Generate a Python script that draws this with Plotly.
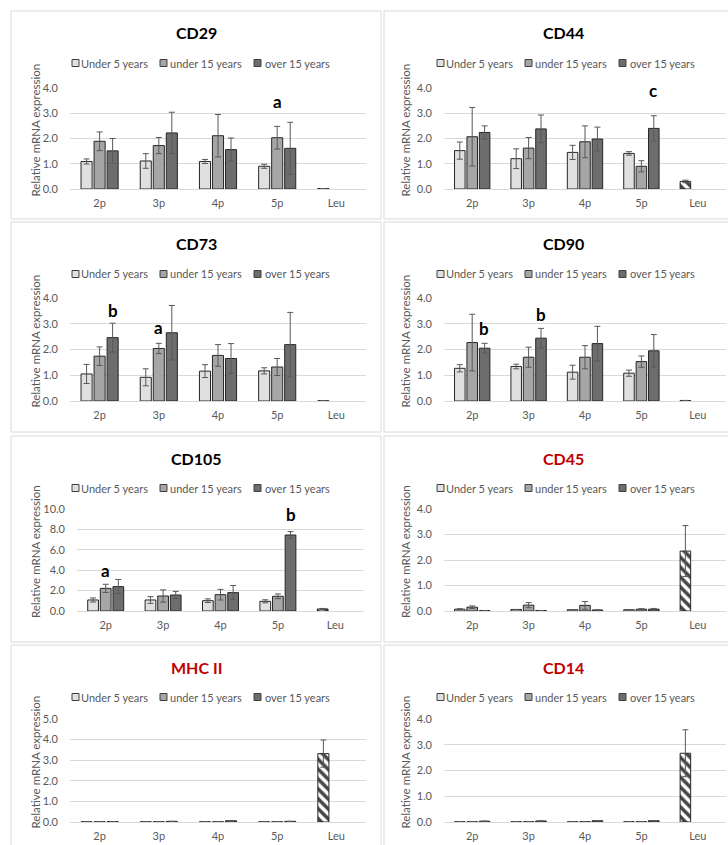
import plotly.graph_objects as go

# ---- data -------------------------------------------------------------
CATS = ["2p", "3p", "4p", "5p", "Leu"]
SERIES = ["Under 5 years", "under 15 years", "over 15 years"]

cd29_u5 = [1.09, 1.11, 1.09, 0.90, 0.02]
cd29_u5_err = [0.10, 0.29, 0.08, 0.08, None]
cd29_u15 = [1.89, 1.72, 2.11, 2.03, None]
cd29_u15_err = [0.37, 0.32, 0.84, 0.45, None]
cd29_o15 = [1.51, 2.22, 1.56, 1.61, None]
cd29_o15_err = [0.49, 0.82, 0.46, 1.03, None]

cd44_u5 = [1.52, 1.20, 1.45, 1.41, 0.30]
cd44_u5_err = [0.34, 0.39, 0.28, 0.07, 0.05]
cd44_u15 = [2.07, 1.62, 1.87, 0.90, None]
cd44_u15_err = [1.16, 0.42, 0.63, 0.22, None]
cd44_o15 = [2.24, 2.38, 1.98, 2.40, None]
cd44_o15_err = [0.26, 0.55, 0.47, 0.50, None]

cd73_u5 = [1.05, 0.92, 1.16, 1.17, 0.01]
cd73_u5_err = [0.37, 0.33, 0.25, 0.12, None]
cd73_u15 = [1.74, 2.04, 1.77, 1.32, None]
cd73_u15_err = [0.36, 0.20, 0.42, 0.33, None]
cd73_o15 = [2.46, 2.65, 1.65, 2.19, None]
cd73_o15_err = [0.56, 1.06, 0.58, 1.25, None]

cd90_u5 = [1.27, 1.34, 1.12, 1.08, 0.02]
cd90_u5_err = [0.14, 0.09, 0.27, 0.12, None]
cd90_u15 = [2.27, 1.70, 1.70, 1.53, None]
cd90_u15_err = [1.10, 0.39, 0.45, 0.22, None]
cd90_o15 = [2.05, 2.44, 2.23, 1.95, None]
cd90_o15_err = [0.19, 0.38, 0.67, 0.63, None]

cd105_u5 = [1.08, 1.08, 1.01, 0.95, 0.20]
cd105_u5_err = [0.20, 0.33, 0.18, 0.15, 0.05]
cd105_u15 = [2.22, 1.47, 1.60, 1.44, None]
cd105_u15_err = [0.40, 0.60, 0.52, 0.23, None]
cd105_o15 = [2.39, 1.57, 1.80, 7.45, None]
cd105_o15_err = [0.70, 0.35, 0.70, 0.33, None]

cd45_u5 = [0.07, 0.06, 0.05, 0.05, 2.35]
cd45_u5_err = [0.02, None, None, None, 1.00]
cd45_u15 = [0.15, 0.23, 0.22, 0.07, None]
cd45_u15_err = [0.05, 0.10, 0.15, 0.02, None]
cd45_o15 = [0.02, 0.02, 0.04, 0.07, None]
cd45_o15_err = [None, None, None, 0.03, None]

mhc2_u5 = [0.01, 0.01, 0.01, 0.01, 3.32]
mhc2_u5_err = [None, None, None, None, 0.66]
mhc2_u15 = [0.01, 0.01, 0.01, 0.01, None]
mhc2_u15_err = [None, None, None, None, None]
mhc2_o15 = [0.02, 0.03, 0.06, 0.03, None]
mhc2_o15_err = [None, None, None, None, None]

cd14_u5 = [0.01, 0.01, 0.01, 0.01, 2.67]
cd14_u5_err = [None, None, None, None, 0.91]
cd14_u15 = [0.01, 0.01, 0.01, 0.01, None]
cd14_u15_err = [None, None, None, None, None]
cd14_o15 = [0.03, 0.04, 0.05, 0.05, None]
cd14_o15_err = [None, None, None, None, None]

# significance letters: (category, value height, letter, bar slot)
cd29_sig = [("5p", 3.45, "a", 0)]
cd44_sig = [("5p", 3.92, "c", 1)]
cd73_sig = [("2p", 3.50, "b", 1), ("3p", 2.87, "a", 0)]
cd90_sig = [("2p", 2.80, "b", 1), ("3p", 3.34, "b", 1)]
cd105_sig = [("2p", 4.00, "a", 0), ("5p", 9.50, "b", 1)]

# ---- styling -------------------------------------------------------------
W, H = 728, 845
FONT = "Lato, Carlito, Calibri, sans-serif"
TXT = "#595959"
GRID = "#d9d9d9"
EDGE = "#262626"
ERR = "#595959"
FILLS = ["#e0e0e0", "#a6a6a6", "#6d6d6d"]
RED = "#c00000"


def fx(px):
    return px / W


def fy(py):
    return 1 - py / H


panels = [
    dict(title="CD29", tcolor="black", col=0, row=0, ymax=4, dtick=1,
         vals=(cd29_u5, cd29_u15, cd29_o15),
         errs=(cd29_u5_err, cd29_u15_err, cd29_o15_err), sig=cd29_sig),
    dict(title="CD44", tcolor="black", col=1, row=0, ymax=4, dtick=1,
         vals=(cd44_u5, cd44_u15, cd44_o15),
         errs=(cd44_u5_err, cd44_u15_err, cd44_o15_err), sig=cd44_sig),
    dict(title="CD73", tcolor="black", col=0, row=1, ymax=4, dtick=1,
         vals=(cd73_u5, cd73_u15, cd73_o15),
         errs=(cd73_u5_err, cd73_u15_err, cd73_o15_err), sig=cd73_sig),
    dict(title="CD90", tcolor="black", col=1, row=1, ymax=4, dtick=1,
         vals=(cd90_u5, cd90_u15, cd90_o15),
         errs=(cd90_u5_err, cd90_u15_err, cd90_o15_err), sig=cd90_sig),
    dict(title="CD105", tcolor="black", col=0, row=2, ymax=10, dtick=2,
         vals=(cd105_u5, cd105_u15, cd105_o15),
         errs=(cd105_u5_err, cd105_u15_err, cd105_o15_err), sig=cd105_sig,
         xdom=(77, 364)),
    dict(title="CD45", tcolor=RED, col=1, row=2, ymax=4, dtick=1,
         vals=(cd45_u5, cd45_u15, cd45_o15),
         errs=(cd45_u5_err, cd45_u15_err, cd45_o15_err), sig=[]),
    dict(title="MHC II", tcolor=RED, col=0, row=3, ymax=5, dtick=1,
         vals=(mhc2_u5, mhc2_u15, mhc2_o15),
         errs=(mhc2_u5_err, mhc2_u15_err, mhc2_o15_err), sig=[]),
    dict(title="CD14", tcolor=RED, col=1, row=3, ymax=4, dtick=1,
         vals=(cd14_u5, cd14_u15, cd14_o15),
         errs=(cd14_u5_err, cd14_u15_err, cd14_o15_err), sig=[]),
]

# pixel geometry of the 2 x 4 grid of framed charts
col_frame = [(11, 381), (384, 745)]
row_frame = [(11, 219), (222, 432), (436, 642), (645, 870)]
col_plot = [(70, 366), (444, 726)]
row_plot = [(88, 189), (298, 401), (509, 611), (719, 822)]
title_x = [196, 563]
legend_box_x = [72, 160, 254]
legend_txt_x = [79, 168, 263]
col_shift = [0, 365]
ytitle_x = [35, 405]

fig = go.Figure()
shapes, annotations = [], []
layout_axes = {}

for i, p in enumerate(panels):
    n = "" if i == 0 else str(i + 1)
    xa, ya = "x" + n, "y" + n
    c, r = p["col"], p["row"]
    x0, x1 = p.get("xdom", col_plot[c])
    ptop, pbot = row_plot[r]

    for s in range(3):
        vals = p["vals"][s]
        errs = p["errs"][s]
        colors = [FILLS[s]] * len(CATS)
        shapes_pat = [""] * len(CATS)
        if s == 0:
            # leukocyte control drawn as a hatched bar
            colors[-1] = "white"
            shapes_pat[-1] = "\\"
        fig.add_trace(go.Bar(
            x=CATS, y=vals, name=SERIES[s], xaxis=xa, yaxis=ya,
            showlegend=False,
            marker=dict(color=colors, line=dict(color=EDGE, width=1),
                        pattern=dict(shape=shapes_pat, fgcolor="#000000",
                                     bgcolor="white", fgopacity=1,
                                     size=7, solidity=0.5)),
            error_y=dict(type="data", array=errs, visible=True, color=ERR,
                         thickness=1, width=3),
        ))

    layout_axes["xaxis" + n] = dict(
        domain=[fx(x0), fx(x1)], anchor=ya, type="category",
        categoryorder="array", categoryarray=CATS, automargin=False,
        showgrid=False, showline=True, linecolor=GRID, linewidth=1,
        ticks="", tickfont=dict(size=11, color=TXT, family=FONT),
        ticklabelstandoff=4, fixedrange=True,
    )
    layout_axes["yaxis" + n] = dict(
        domain=[fy(pbot), fy(ptop)], anchor=xa, range=[0, p["ymax"]],
        dtick=p["dtick"], tickformat=".1f", showgrid=True, gridcolor=GRID,
        gridwidth=1, zeroline=False, showline=False, ticks="",
        automargin=False,
        tickfont=dict(size=11, color=TXT, family=FONT),
        ticklabelstandoff=11, fixedrange=True,
    )

    # frame
    fx0, fx1 = col_frame[c]
    fy0, fy1 = row_frame[r]
    shapes.append(dict(type="rect", xref="paper", yref="paper",
                       x0=fx(fx0), x1=fx(fx1), y0=fy(fy1), y1=fy(fy0),
                       line=dict(color=GRID, width=1), layer="below"))

    # title
    annotations.append(dict(
        text="<b>%s</b>" % p["title"], xref="paper", yref="paper",
        x=fx(title_x[c]), y=fy(fy0 + 22), xanchor="center", yanchor="middle",
        showarrow=False, font=dict(size=16, color=p["tcolor"], family=FONT)))

    # legend row
    ly = fy0 + 52
    for s in range(3):
        bx = legend_box_x[s] + col_shift[c]
        shapes.append(dict(type="rect", xref="paper", yref="paper",
                           x0=fx(bx), x1=fx(bx + 7),
                           y0=fy(ly + 3.5), y1=fy(ly - 3.5),
                           fillcolor=FILLS[s],
                           line=dict(color="#404040", width=1)))
        annotations.append(dict(
            text=SERIES[s], xref="paper", yref="paper",
            x=fx(legend_txt_x[s] + col_shift[c]), y=fy(ly),
            xanchor="left", yanchor="middle", showarrow=False,
            font=dict(size=11, color=TXT, family=FONT)))

    # y axis title
    annotations.append(dict(
        text="Relative mRNA expression", xref="paper", yref="paper",
        x=fx(ytitle_x[c]), y=fy((ptop + pbot) / 2 - 8), textangle=-90,
        xanchor="center", yanchor="middle", showarrow=False,
        font=dict(size=11.5, color=TXT, family=FONT)))

    # significance letters
    cat_w = (x1 - x0) / len(CATS)
    for cat, yv, letter, slot in p["sig"]:
        annotations.append(dict(
            text="<b>%s</b>" % letter, xref=xa, yref=ya, x=cat, y=yv,
            xshift=round(slot * cat_w * 0.66 / 3), showarrow=False,
            xanchor="center", yanchor="middle",
            font=dict(size=17, color="black", family=FONT)))

fig.update_layout(
    width=W, height=H, autosize=False,
    margin=dict(l=0, r=0, t=0, b=0, pad=0),
    paper_bgcolor="white", plot_bgcolor="white",
    barmode="group", bargap=0.34, bargroupgap=0.15,
    font=dict(family=FONT, color=TXT),
    shapes=shapes, annotations=annotations,
    **layout_axes,
)

fig.write_html("out.html")
